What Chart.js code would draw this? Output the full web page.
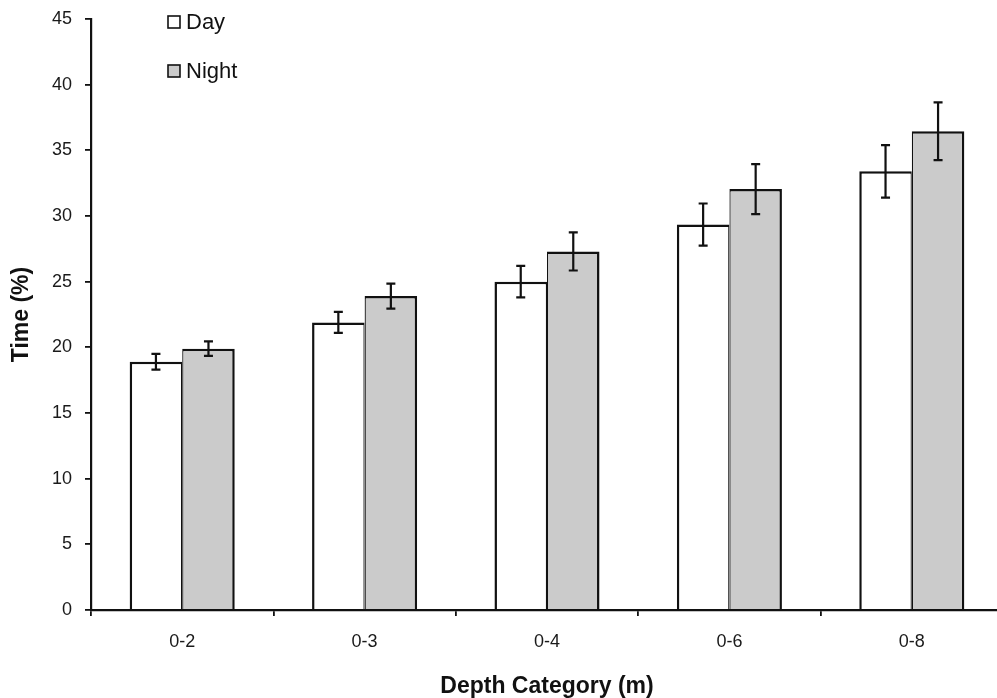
<!DOCTYPE html>
<html>
<head>
<meta charset="utf-8">
<script src="https://cdn.jsdelivr.net/npm/chart.js@4"></script>
<style>
  html, body { margin: 0; padding: 0; background: #fff; overflow: hidden; }
  #wrap { width: 1004px; height: 698px; }
</style>
</head>
<body>
<div id="wrap"><canvas id="depthChart" width="1004" height="698"></canvas></div>
<script>
// categories and series
const depthLabels = ['0-2', '0-3', '0-4', '0-6', '0-8'];
const dayValues = [18.9, 21.9, 25.0, 29.35, 33.4];
const dayErrors = [0.6, 0.8, 1.2, 1.6, 2.0];
const nightValues = [19.9, 23.9, 27.3, 32.05, 36.45];
const nightErrors = [0.55, 0.95, 1.45, 1.9, 2.2];

const FONT = '"Liberation Sans", Arial, sans-serif';

// error bars drawn through the y scale
const errorBarPlugin = {
    id: 'errorBars',
    afterDatasetsDraw(chart) {
        const ctx = chart.ctx;
        const yScale = chart.scales.y;
        chart.data.datasets.forEach((ds, i) => {
            const meta = chart.getDatasetMeta(i);
            meta.data.forEach((bar, j) => {
                const v = ds.data[j];
                const e = ds.errors[j];
                const yTop = yScale.getPixelForValue(v + e);
                const yBot = yScale.getPixelForValue(v - e);
                ctx.save();
                ctx.strokeStyle = '#111';
                ctx.lineWidth = 2.2;
                ctx.beginPath();
                ctx.moveTo(bar.x, yTop);
                ctx.lineTo(bar.x, yBot);
                ctx.moveTo(bar.x - 4.5, yTop);
                ctx.lineTo(bar.x + 4.5, yTop);
                ctx.moveTo(bar.x - 4.5, yBot);
                ctx.lineTo(bar.x + 4.5, yBot);
                ctx.stroke();
                ctx.restore();
            });
        });
    }
};

// legend stacked inside the plot, top left
const insideLegend = {
    id: 'insideLegend',
    afterDraw(chart) {
        const ctx = chart.ctx;
        ctx.save();
        chart.data.datasets.forEach((ds, i) => {
            const cy = 22 + i * 49;
            ctx.fillStyle = ds.backgroundColor;
            ctx.fillRect(168, cy - 6, 12, 12);
            ctx.strokeStyle = '#111';
            ctx.lineWidth = 1.6;
            ctx.strokeRect(168, cy - 6, 12, 12);
            ctx.fillStyle = '#111';
            ctx.font = '22px ' + FONT;
            ctx.textBaseline = 'middle';
            ctx.textAlign = 'left';
            ctx.fillText(ds.label, 186, cy + 1);
        });
        ctx.restore();
    }
};

const ctx = document.getElementById('depthChart').getContext('2d');
new Chart(ctx, {
    type: 'bar',
    data: {
        labels: depthLabels,
        datasets: [
            {
                label: 'Day',
                data: dayValues,
                errors: dayErrors,
                backgroundColor: '#ffffff',
                borderColor: '#111',
                borderWidth: { top: 2.5, left: 2.5, right: 1.25, bottom: 0 },
                borderSkipped: false
            },
            {
                label: 'Night',
                data: nightValues,
                errors: nightErrors,
                backgroundColor: '#cbcbcb',
                borderColor: '#111',
                borderWidth: { top: 2.5, left: 1.25, right: 2.5, bottom: 0 },
                borderSkipped: false
            }
        ]
    },
    options: {
        responsive: false,
        animation: false,
        layout: { padding: { top: 19, right: 1, bottom: 0, left: 0 } },
        datasets: {
            bar: { barPercentage: 1, categoryPercentage: 0.576 }
        },
        plugins: {
            legend: { display: false },
            tooltip: { enabled: false }
        },
        scales: {
            x: {
                offset: true,
                grid: {
                    offset: true,
                    drawOnChartArea: false,
                    drawTicks: true,
                    tickLength: 6,
                    tickColor: '#111',
                    lineWidth: 1.8
                },
                border: { display: true, color: '#111', width: 2.2 },
                ticks: {
                    color: '#1a1a1a',
                    padding: 15,
                    font: { family: FONT, size: 18 }
                },
                title: {
                    display: true,
                    text: 'Depth Category (m)',
                    color: '#111',
                    padding: 0,
                    font: { family: FONT, size: 23, weight: 'bold', lineHeight: 1 }
                },
                afterFit(scale) { scale.height = 88; }
            },
            y: {
                min: 0,
                max: 45,
                grid: {
                    drawOnChartArea: false,
                    drawTicks: true,
                    tickLength: 6,
                    tickColor: '#111',
                    lineWidth: 1.8
                },
                border: { display: true, color: '#111', width: 2.2 },
                ticks: {
                    stepSize: 5,
                    color: '#1a1a1a',
                    padding: 13,
                    font: { family: FONT, size: 18 }
                },
                title: {
                    display: true,
                    text: 'Time (%)',
                    color: '#111',
                    padding: 10,
                    font: { family: FONT, size: 23, weight: 'bold', lineHeight: 1 }
                },
                afterFit(scale) {
                    scale.width = 91;
                    scale.paddingTop = 0;
                    scale.paddingBottom = 0;
                }
            }
        }
    },
    plugins: [errorBarPlugin, insideLegend]
});
</script>
</body>
</html>
